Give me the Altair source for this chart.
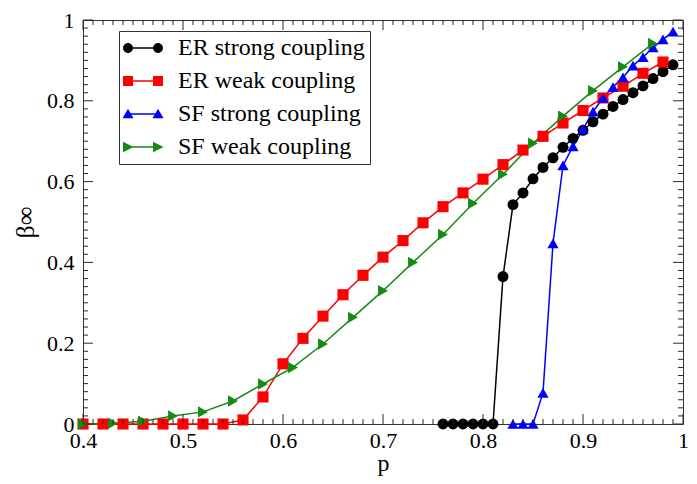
import math
import altair as alt
import pandas as pd

# ---------------- data ----------------
series_names = ["ER strong coupling", "ER weak coupling", "SF strong coupling", "SF weak coupling"]
series_colors = ["#000000", "#ff0000", "#0000ff", "#148c14"]
series_shapes = ["circle", "square", "triangle-up", "triangle-right"]
series_sizes = [120, 130, 185, 185]

er_strong_p = [0.76, 0.77, 0.78, 0.79, 0.80, 0.81, 0.82, 0.83, 0.84, 0.85, 0.86, 0.87,
               0.88, 0.89, 0.90, 0.91, 0.92, 0.93, 0.94, 0.95, 0.96, 0.97, 0.98, 0.99]
er_strong_b = [0, 0, 0, 0, 0, 0, 0.365, 0.543, 0.572, 0.607, 0.635, 0.659,
               0.685, 0.707, 0.727, 0.748, 0.767, 0.786, 0.803, 0.820, 0.837, 0.855, 0.872, 0.889]

er_weak_p = [0.40, 0.42, 0.44, 0.46, 0.48, 0.50, 0.52, 0.54, 0.56, 0.58, 0.60, 0.62, 0.64, 0.66, 0.68,
             0.70, 0.72, 0.74, 0.76, 0.78, 0.80, 0.82, 0.84, 0.86, 0.88, 0.90, 0.92, 0.94, 0.96, 0.98]
er_weak_b = [0, 0, 0, 0, 0, 0, 0, 0, 0.010, 0.067, 0.149, 0.212, 0.267, 0.320, 0.368,
             0.413, 0.454, 0.498, 0.538, 0.572, 0.606, 0.642, 0.678, 0.712, 0.745, 0.776, 0.807, 0.836, 0.868, 0.896]

sf_strong_p = [0.83, 0.84, 0.85, 0.86, 0.87, 0.88, 0.89, 0.90, 0.91, 0.92, 0.93, 0.94,
               0.95, 0.96, 0.97, 0.98, 0.99]
sf_strong_b = [0, 0, 0, 0.077, 0.447, 0.640, 0.687, 0.730, 0.773, 0.807, 0.834, 0.858,
               0.887, 0.908, 0.932, 0.952, 0.971]

sf_weak_p = [0.40, 0.43, 0.46, 0.49, 0.52, 0.55, 0.58, 0.61, 0.64, 0.67, 0.70, 0.73,
             0.76, 0.79, 0.82, 0.85, 0.88, 0.91, 0.94, 0.97]
sf_weak_b = [0, 0.002, 0.007, 0.020, 0.030, 0.057, 0.099, 0.140, 0.198, 0.264, 0.330, 0.400,
             0.469, 0.546, 0.618, 0.695, 0.762, 0.825, 0.884, 0.942]

# tick values (labels every 0.1 / 0.2, minor ticks every 0.01 / 0.02)
x_major = [0.4, 0.5, 0.6, 0.7, 0.8, 0.9, 1.0]
y_major = [0.0, 0.2, 0.4, 0.6, 0.8, 1.0]
x_minor = [round(0.4 + i * 0.01, 2) for i in range(61)]
y_minor = [round(i * 0.02, 2) for i in range(51)]

W, H = 600, 404
X0, X1, Y0, Y1 = 0.4, 1.0, 0.0, 1.0
FONT = "Liberation Serif"
TICK = "#2a2a2a"

rows = []
for name, ps, bs in [(series_names[0], er_strong_p, er_strong_b),
                     (series_names[1], er_weak_p, er_weak_b),
                     (series_names[2], sf_strong_p, sf_strong_b),
                     (series_names[3], sf_weak_p, sf_weak_b)]:
    for p, b in zip(ps, bs):
        rows.append({"layer": "data", "series": name, "p": p, "beta": b, "side": "", "kind": ""})

# inward frame ticks: one stroked "point" per tick, anchored on the frame through the scales
for v in x_minor:
    kind = "major" if any(abs(v - m) < 1e-9 for m in x_major) else "minor"
    rows.append({"layer": "tick", "series": "", "p": v, "beta": Y0, "side": "bottom", "kind": kind})
    rows.append({"layer": "tick", "series": "", "p": v, "beta": Y1, "side": "top", "kind": kind})
for v in y_minor:
    kind = "major" if any(abs(v - m) < 1e-9 for m in y_major) else "minor"
    rows.append({"layer": "tick", "series": "", "p": X0, "beta": v, "side": "left", "kind": kind})
    rows.append({"layer": "tick", "series": "", "p": X1, "beta": v, "side": "right", "kind": kind})
df = pd.DataFrame(rows)

tick_sides = ["bottom", "top", "left", "right"]
tick_paths = ["M0,0L0,-1", "M0,0L0,1", "M0,0L1,0", "M0,0L-1,0"]   # length = sqrt(size)/2 px
tick_kinds = ["major", "minor"]
tick_sizes = [400, 100]                                         # 10 px and 5 px

# ---------------- legend symbols: line with a marker at each end ----------------
# unit = 10 px (symbolSize 400)
def _poly(pts):
    return "M" + "L".join(f"{x:.3f},{y:.3f}" for x, y in pts) + "Z"

def _circle(cx, r=0.5, n=18):
    return _poly([(cx + r * math.cos(2 * math.pi * k / n), r * math.sin(2 * math.pi * k / n)) for k in range(n)])

L, R = -0.8, 2.2          # marker centres
_bar = _poly([(L, -0.075), (R, -0.075), (R, 0.075), (L, 0.075)])
legend_paths = [
    _circle(L) + _circle(R) + _bar,
    _poly([(L - 0.5, -0.5), (L + 0.5, -0.5), (L + 0.5, 0.5), (L - 0.5, 0.5)])
    + _poly([(R - 0.5, -0.5), (R + 0.5, -0.5), (R + 0.5, 0.5), (R - 0.5, 0.5)]) + _bar,
    _poly([(L - 0.55, 0.42), (L, -0.52), (L + 0.55, 0.42)])
    + _poly([(R - 0.55, 0.42), (R, -0.52), (R + 0.55, 0.42)]) + _bar,
    _poly([(L - 0.5, -0.52), (L + 0.55, 0), (L - 0.5, 0.52)])
    + _poly([(R - 0.5, -0.52), (R + 0.55, 0), (R - 0.5, 0.52)]) + _bar,
]

xs = alt.Scale(domain=[X0, X1], nice=False, zero=False)
ys = alt.Scale(domain=[Y0, Y1], nice=False, zero=False)
color_scale = alt.Scale(domain=series_names, range=series_colors)

x_lab = alt.Axis(orient="bottom", values=x_major, ticks=False, domain=False, grid=False,
                 labelFont=FONT, labelFontSize=22, labelColor="black", labelPadding=6,
                 labelFlush=False, labelOverlap=False,
                 labelExpr="datum.value > 0.999 ? '1' : format(datum.value, '.1f')",
                 title="p", titleFont=FONT, titleFontSize=24, titleFontWeight="normal",
                 titleColor="black", titlePadding=0)
y_lab = alt.Axis(orient="left", values=y_major, ticks=False, domain=False, grid=False,
                 labelFont=FONT, labelFontSize=22, labelColor="black", labelPadding=9,
                 labelFlush=False, labelOverlap=False,
                 labelExpr="datum.value < 0.001 ? '0' : datum.value > 0.999 ? '1' : format(datum.value, '.1f')",
                 title="β∞", titleFont=FONT, titleFontSize=26, titleFontWeight="normal",
                 titleColor="black", titlePadding=8)

base = alt.Chart(df)
series_data = base.transform_filter(alt.datum.layer == "data")

lines = series_data.mark_line(strokeWidth=1.5).encode(
    x=alt.X("p:Q", scale=xs, axis=x_lab),
    y=alt.Y("beta:Q", scale=ys, axis=y_lab),
    color=alt.Color("series:N", scale=color_scale, legend=None),
    detail="series:N",
)

points = series_data.mark_point(filled=True, opacity=1, strokeWidth=0).encode(
    x=alt.X("p:Q", scale=xs, axis=x_lab),
    y=alt.Y("beta:Q", scale=ys, axis=y_lab),
    color=alt.Color("series:N", scale=color_scale, legend=None),
    shape=alt.Shape("series:N", scale=alt.Scale(domain=series_names, range=series_shapes), legend=None),
    size=alt.Size("series:N", scale=alt.Scale(domain=series_names, range=series_sizes), legend=None),
)

tick_marks = base.transform_filter(alt.datum.layer == "tick").mark_point(
    filled=False, opacity=1, strokeWidth=1, color=TICK
).encode(
    x=alt.X("p:Q", scale=xs, axis=x_lab),
    y=alt.Y("beta:Q", scale=ys, axis=y_lab),
    shape=alt.Shape("side:N", scale=alt.Scale(domain=tick_sides, range=tick_paths), legend=None),
    size=alt.Size("kind:N", scale=alt.Scale(domain=tick_kinds, range=tick_sizes), legend=None),
)

leg = alt.Legend(orient="none", legendX=36, legendY=11, title=None,
                 strokeColor="#333333", fillColor="white", padding=5,
                 labelFont=FONT, labelFontSize=24, labelColor="black", labelOffset=30,
                 labelLimit=400, rowPadding=9, symbolSize=400, symbolStrokeWidth=0,
                 symbolOpacity=1)

legend_layer = base.transform_filter("datum.p < 0").mark_point(filled=True, opacity=1).encode(
    x=alt.X("p:Q", scale=xs, axis=x_lab),
    y=alt.Y("beta:Q", scale=ys, axis=y_lab),
    color=alt.Color("series:N", scale=alt.Scale(domain=series_names, range=series_colors), legend=leg),
    shape=alt.Shape("series:N", scale=alt.Scale(domain=series_names, range=legend_paths), legend=leg),
)

chart = alt.layer(lines, points, tick_marks, legend_layer).resolve_scale(
    color="independent", shape="independent", size="independent"
).properties(
    width=W, height=H,
    autosize=alt.AutoSizeParams(type="none"),
    padding={"left": 75, "top": 12, "right": 6, "bottom": 52},
    background="white",
).configure_view(
    stroke="#333333", strokeWidth=1
)

chart.save("out.html", embed_options={"renderer": "svg", "actions": False})
